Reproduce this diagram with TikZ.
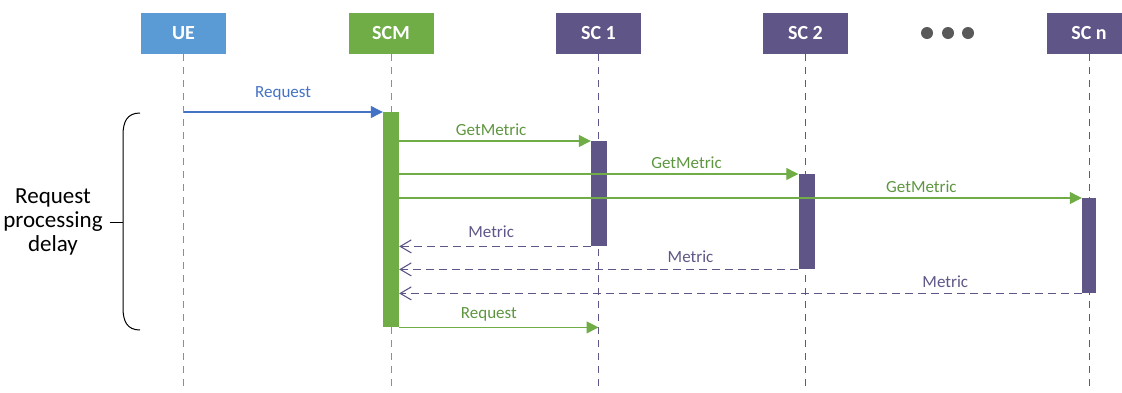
\documentclass[tikz,border=0pt]{standalone}
\usepackage{fontspec}
\setmainfont{Carlito}
\usepackage{xcolor}
\usetikzlibrary{arrows.meta,positioning,calc}

\definecolor{ueblue}{HTML}{5B9BD5}
\definecolor{msgblue}{HTML}{4472C4}
\definecolor{scmgreen}{HTML}{70AD47}
\definecolor{txtgreen}{HTML}{5E9640}
\definecolor{scpurple}{HTML}{5F5687}
\definecolor{dotgray}{HTML}{595959}

\begin{document}
\begin{tikzpicture}[
    x=1pt, y=-1pt,
    actor/.style={rectangle, text=white, font=\fontsize{20}{24}\selectfont\bfseries, minimum width=85pt, minimum height=41pt, inner sep=0pt},
    life/.style={line width=0.9pt, dash pattern=on 7pt off 6pt},
    bar/.style={rectangle, minimum width=16pt, anchor=north, inner sep=0pt},
    msg/.style={-{Triangle[length=12pt,width=12pt]}, line width=1.2pt},
    reply/.style={-{Straight Barb[length=11pt,width=13pt]}, line width=1.1pt, draw=scpurple, dash pattern=on 8pt off 5pt},
    lbl/.style={font=\fontsize{17}{20}\selectfont, above, inner sep=5pt}
]
\useasboundingbox (0,0) rectangle (1122,392);
\coordinate (bottom) at (0,392);

% Actors
\node[actor, fill=ueblue] (ue) at (183.5,33.5) {UE};
\node[actor, fill=scmgreen] (scm) at (391,33.5) {SCM};
\node[actor, fill=scpurple] (sc1) at (598.5,33.5) {SC 1};
\node[actor, fill=scpurple] (sc2) at (805.5,33.5) {SC 2};
\node[actor, fill=scpurple] (scn) at (1089,33.5) {SC n};
\foreach \x/\n in {927/1,948/2,968/3}
    \node[circle, fill=dotgray, minimum size=12pt, inner sep=0pt] (dot\n) at (\x,33) {};

% Lifelines
\draw[life, draw=ueblue] (ue.south) -- (ue |- bottom);
\draw[life, draw=scmgreen] (scm.south) -- (scm |- bottom);
\foreach \n in {sc1,sc2,scn}
    \draw[life, draw=scpurple] (\n.south) -- (\n |- bottom);

% Activation bars
\node[bar, fill=scmgreen, minimum height=215pt] (scmbar) at (391,112) {};
\node[bar, fill=scpurple, minimum height=105pt] (sc1bar) at (599,141) {};
\node[bar, fill=scpurple, minimum height=95pt] (sc2bar) at (806.5,174) {};
\node[bar, fill=scpurple, minimum height=95pt, minimum width=14pt] (scnbar) at (1089,198) {};

% Messages
\draw[msg, draw=msgblue] (ue |- scmbar.north) -- node[lbl, text=msgblue, inner sep=11pt] {Request} (scmbar.north west);
\draw[msg, draw=scmgreen] (scmbar.east |- sc1bar.north) -- node[lbl, text=txtgreen, pos=0.48] {GetMetric} (sc1bar.north west);
\draw[msg, draw=scmgreen] (scmbar.east |- sc2bar.north) -- node[lbl, text=txtgreen, pos=0.72] {GetMetric} (sc2bar.north west);
\draw[msg, draw=scmgreen] (scmbar.east |- scnbar.north) -- node[lbl, text=txtgreen, pos=0.765] {GetMetric} (scnbar.north west);
\draw[reply] (sc1bar.south west) -- node[lbl, text=scpurple, pos=0.52, inner sep=8pt] {Metric} (scmbar.east |- sc1bar.south);
\draw[reply] (sc2bar.south west) -- node[lbl, text=scpurple, pos=0.27, inner sep=6pt] {Metric} (scmbar.east |- sc2bar.south);
\draw[reply] (scnbar.south west) -- node[lbl, text=scpurple, pos=0.2] {Metric} (scmbar.east |- scnbar.south);
\draw[msg, draw=scmgreen] (scmbar.south east) -- node[lbl, text=txtgreen, pos=0.45, inner sep=6pt] {Request} (sc1 |- scmbar.south);

% Delay brace
\node[font=\fontsize{23}{24}\selectfont, align=center] (delay) at (53,222) {Request\\processing\\delay};
\coordinate (bracemid) at (123,222);
\draw[line width=1pt] (140,113) .. controls (127,113) and (123,122) .. (123,135) -- (123,308) .. controls (123,321) and (127,330) .. (140,330);
\draw[line width=1pt, shorten <=4pt] (delay.east) -- (bracemid);

\end{tikzpicture}
\end{document}
